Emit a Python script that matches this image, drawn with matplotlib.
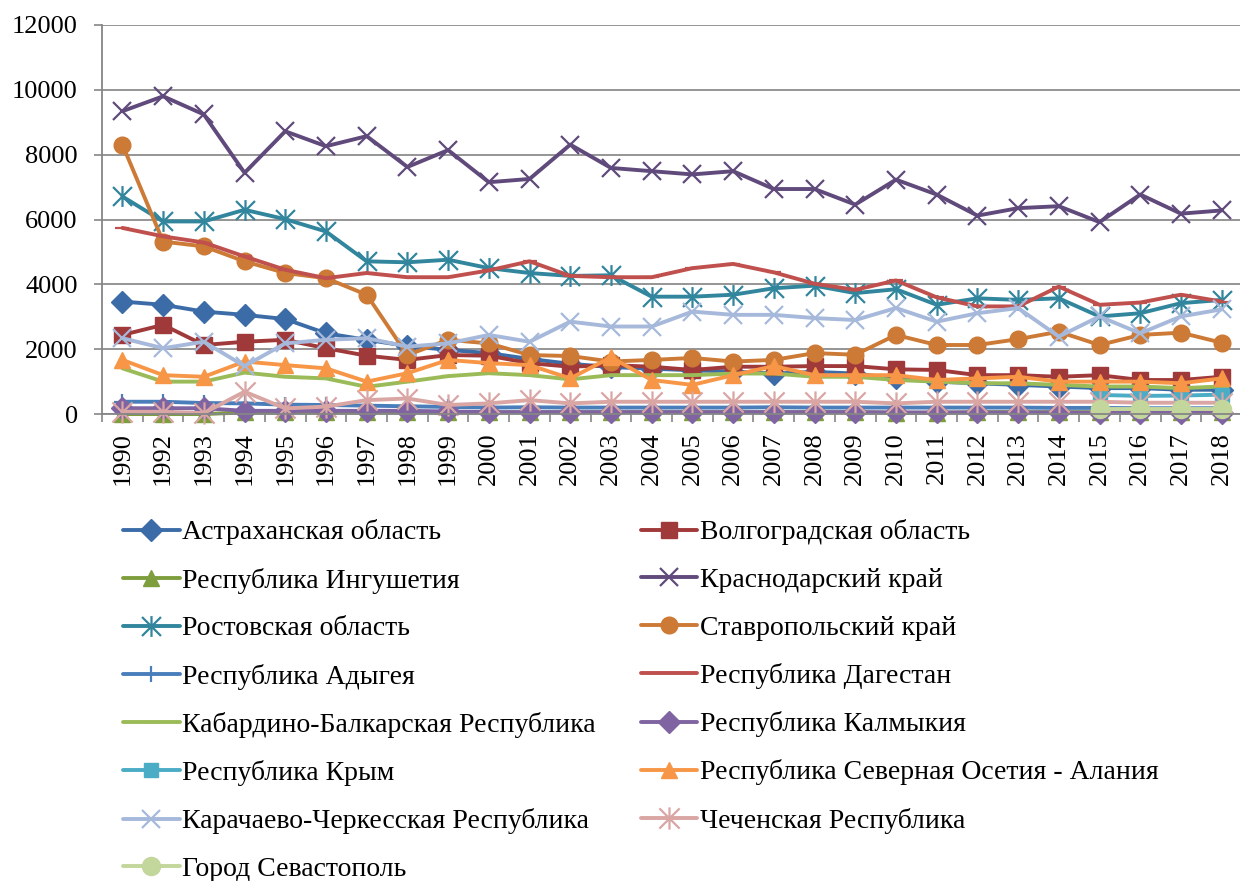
import matplotlib
matplotlib.use('Agg')
import matplotlib.pyplot as plt
import numpy as np
from matplotlib.path import Path

plt.rcParams['font.family'] = ['Liberation Serif', 'DejaVu Serif']

years = ['1990', '1992', '1993', '1994', '1995', '1996', '1997', '1998', '1999',
         '2000', '2001', '2002', '2003', '2004', '2005', '2006', '2007', '2008',
         '2009', '2010', '2011', '2012', '2013', '2014', '2015', '2016', '2017', '2018']
nan = np.nan

astrakhan = [3470, 3370, 3160, 3060, 2930, 2490, 2290, 2100, 1980, 1880, 1700, 1550, 1450, 1400,
             1350, 1310, 1250, 1300, 1250, 1100, 1000, 950, 900, 850, 800, 800, 750, 750]
volgograd = [2440, 2750, 2130, 2230, 2290, 2030, 1800, 1670, 1820, 1800, 1570, 1460, 1510, 1460,
             1360, 1460, 1460, 1480, 1480, 1380, 1360, 1200, 1200, 1150, 1200, 1050, 1050, 1150]
ingush = [0, 0, 0, 50, 50, 50, 50, 50, 50, 50, 60, 60, 60, 60,
          60, 60, 60, 60, 60, 40, 40, 60, 60, 60, 60, 60, 60, 60]
krasnodar = [9340, 9800, 9240, 7440, 8720, 8260, 8570, 7620, 8140, 7150, 7250, 8310, 7590, 7490,
             7390, 7490, 6940, 6940, 6460, 7230, 6770, 6120, 6350, 6410, 5920, 6770, 6180, 6280]
rostov = [6710, 5940, 5940, 6300, 6010, 5630, 4710, 4680, 4760, 4500, 4350, 4260, 4280, 3620,
          3620, 3680, 3880, 3960, 3730, 3850, 3370, 3570, 3520, 3570, 3010, 3110, 3420, 3520]
stavropol = [8310, 5320, 5170, 4710, 4350, 4190, 3680, 1820, 2290, 2180, 1820, 1790, 1620, 1670,
             1730, 1620, 1670, 1880, 1830, 2440, 2130, 2130, 2310, 2540, 2130, 2440, 2510, 2200]
adygea = [380, 380, 340, 330, 290, 280, 260, 240, 220, 200, 210, 200, 200, 200,
          200, 200, 210, 200, 200, 200, 200, 200, 200, 190, 190, 180, 180, 180]
dagestan = [5740, 5480, 5290, 4860, 4450, 4190, 4350, 4220, 4220, 4430, 4710, 4260, 4220, 4220,
            4500, 4630, 4370, 4020, 3830, 4120, 3600, 3320, 3320, 3930, 3370, 3440, 3680, 3470]
kabardino = [1410, 1000, 1000, 1280, 1150, 1100, 840, 1000, 1170, 1260, 1200, 1070, 1200, 1200,
             1200, 1250, 1250, 1150, 1150, 1050, 1000, 950, 950, 900, 850, 850, 800, 850]
kalmykia = [180, 180, 180, 100, 100, 100, 100, 100, 80, 60, 60, 60, 60, 60,
            60, 60, 60, 60, 60, 50, 50, 50, 50, 50, 40, 40, 40, 40]
crimea = [nan] * 24 + [590, 560, 570, 600]
ossetia = [1670, 1200, 1150, 1620, 1510, 1410, 1000, 1260, 1670, 1570, 1510, 1100, 1750, 1050,
           900, 1200, 1480, 1200, 1200, 1200, 1050, 1100, 1150, 1000, 1000, 1000, 950, 1100]
karachay = [2340, 2030, 2230, 1480, 2180, 2290, 2340, 2080, 2180, 2440, 2230, 2850, 2700, 2700,
            3160, 3060, 3060, 2960, 2900, 3270, 2850, 3110, 3270, 2390, 3010, 2490, 3010, 3230]
chechen = [70, 70, 30, 690, 175, 230, 430, 480, 280, 330, 430, 330, 380, 380,
           380, 380, 380, 380, 380, 330, 380, 380, 380, 380, 380, 350, 350, 350]
sevastopol = [nan] * 24 + [170, 170, 170, 170]

star = Path([(-1, -1), (1, 1), (-1, 1), (1, -1), (0, -1.1), (0, 1.1)],
            [Path.MOVETO, Path.LINETO, Path.MOVETO, Path.LINETO, Path.MOVETO, Path.LINETO])

series = [
    ('Астраханская область', astrakhan, '#3C6CA8', 'D', 11),
    ('Волгоградская область', volgograd, '#A0393A', 's', 11),
    ('Республика Ингушетия', ingush, '#7E9E3E', '^', 11),
    ('Краснодарский край', krasnodar, '#604A7B', 'x', 13),
    ('Ростовская область', rostov, '#31859C', star, 15),
    ('Ставропольский край', stavropol, '#CC7A35', 'o', 12),
    ('Республика Адыгея', adygea, '#4A7EBB', '+', 12),
    ('Республика Дагестан', dagestan, '#C0504D', '_', 10),
    ('Кабардино-Балкарская Республика', kabardino, '#9BBB59', '_', 10),
    ('Республика Калмыкия', kalmykia, '#8064A2', 'D', 11),
    ('Республика Крым', crimea, '#4BACC6', 's', 10),
    ('Республика Северная Осетия - Алания', ossetia, '#F79646', '^', 12),
    ('Карачаево-Черкесская Республика', karachay, '#A6B9DB', 'x', 13),
    ('Чеченская Республика', chechen, '#D9A6A4', star, 16),
    ('Город Севастополь', sevastopol, '#C3D69B', 'o', 13),
]

fig = plt.figure(figsize=(12.4, 8.81), dpi=100)
ax = fig.add_axes([0.0823, 0.530, 0.9177, 0.4417])
x = np.arange(len(years))

handles = []
for name, vals, col, mk, ms in series:
    filled = mk in ('D', 's', '^', 'o')
    h, = ax.plot(x, vals, color=col, lw=2.8, marker=mk, markersize=ms,
                 markerfacecolor=col, markeredgecolor=col,
                 markeredgewidth=1.0 if filled else 1.6,
                 solid_joinstyle='round', solid_capstyle='round',
                 label=name, clip_on=False)
    handles.append(h)

ax.set_xlim(-0.5, 27.45)
ax.set_ylim(0, 12000)
ax.set_yticks(np.arange(0, 12001, 2000))
ax.set_xticks(x)
ax.set_xticklabels(years, rotation=90, fontsize=19)
ax.set_xticks(np.arange(-0.5, 27.5, 1), minor=True)
ax.tick_params(axis='x', which='major', length=0, pad=13)
ax.tick_params(axis='x', which='minor', length=6, color='#868686', width=1.2)
ax.tick_params(axis='y', length=6, color='#868686', width=1.2, pad=11.5, labelsize=19)
ax.grid(axis='y', color='#8C8C8C', lw=1.3)
ax.set_axisbelow(True)
for s in ['top', 'right']:
    ax.spines[s].set_visible(False)
for s in ['left', 'bottom']:
    ax.spines[s].set_color('#868686')
    ax.spines[s].set_linewidth(1.3)

order = list(range(0, 15, 2)) + list(range(1, 15, 2))
fig.legend([handles[i] for i in order], [handles[i].get_label() for i in order],
           ncol=2, loc='upper left', bbox_to_anchor=(0.09, 0.423), frameon=False,
           fontsize=20, handlelength=2.05, handletextpad=0.1, labelspacing=0.8,
           columnspacing=1.6, borderaxespad=0)

fig.savefig('out.png', dpi=100)
